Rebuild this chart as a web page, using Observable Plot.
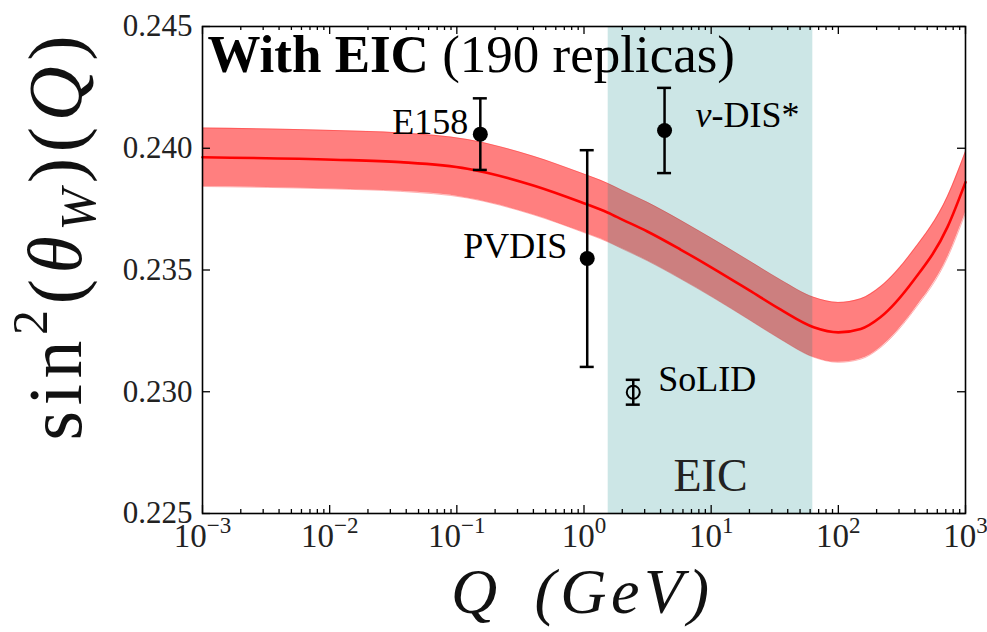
<!DOCTYPE html>
<html><head><meta charset="utf-8">
<script src="https://cdn.jsdelivr.net/npm/d3@7"></script>
<script src="https://cdn.jsdelivr.net/npm/@observablehq/plot@0.6"></script>
<style>html,body{margin:0;padding:0;background:#fff}</style>
</head><body><div id="chart"></div>
<script>
// ---- data ----
const curveQ   = [0.001, 0.0107, 0.036, 0.121, 0.40, 0.94, 1.53, 2.0, 3.15, 5.74, 10.4, 20, 35, 64, 100, 150, 214, 390, 721, 1000];
const curveV   = [0.23963, 0.23953, 0.23943, 0.23916, 0.23847, 0.23779, 0.23736, 0.23707, 0.23658, 0.23584, 0.23506, 0.23416, 0.23338, 0.23265, 0.23244, 0.23258, 0.23306, 0.23457, 0.23676, 0.23861];
const curveErr = [0.00120, 0.00120, 0.00120, 0.00120, 0.00120, 0.00120, 0.00120, 0.00120, 0.00120, 0.00120, 0.00120, 0.00121, 0.00122, 0.00123, 0.00123, 0.00124, 0.00125, 0.00125, 0.00126, 0.00126];

const pointNames  = ["E158", "PVDIS", "ν-DIS*", "SoLID"];
const pointQ      = [0.153, 1.06, 4.3, 2.44];
const pointV      = [0.24058, 0.23547, 0.24073, 0.22998];
const pointErr    = [0.00147, 0.00445, 0.00175, 0.00051];
const pointFilled = [true, true, true, false];

const eicRange = [1.55, 63];
const eicLabel = "EIC";
const titleBold = "With EIC";
const titleRest = " (190 replicas)";
const xLabel = "Q (GeV)";
const yLabel = "sin2(θW)(Q)";

const xTickValues = [1e-3, 1e-2, 1e-1, 1e0, 1e1, 1e2, 1e3];
const xTickLabels = ["10^-3", "10^-2", "10^-1", "10^0", "10^1", "10^2", "10^3"];
const yTickValues = [0.225, 0.230, 0.235, 0.240, 0.245];
const yTickLabels = ["0.225", "0.230", "0.235", "0.240", "0.245"];

// ---- tables built from the arrays ----
const curve = curveQ.map((q, i) => ({q, v: curveV[i], lo: curveV[i] - curveErr[i], hi: curveV[i] + curveErr[i]}));
const points = pointNames.map((name, i) => ({name, q: pointQ[i], v: pointV[i],
  lo: pointV[i] - pointErr[i], hi: pointV[i] + pointErr[i], filled: pointFilled[i]}));
const minorX = [];
for (let k = -3; k < 3; k++) for (let m = 2; m <= 9; m++) minorX.push(m * Math.pow(10, k));

const W = 987, H = 632, mL = 202, mR = 22, mT = 26, mB = 119;
const iw = W - mL - mR, ih = H - mT - mB;
const MAJ = 8, MIN = 4, TW = 1.3;
const serif = "'Liberation Serif', 'Times New Roman', serif";

const byName = n => points.filter(d => d.name === n);

const chart = Plot.plot({
  width: W, height: H,
  marginLeft: mL, marginRight: mR, marginTop: mT, marginBottom: mB,
  style: {fontFamily: serif, background: "white", color: "black"},
  x: {type: "log", domain: [1e-3, 1e3]},
  y: {domain: [0.225, 0.245]},
  marks: [
    // red uncertainty band
    Plot.areaY(curve, {x: "q", y1: "lo", y2: "hi", fill: "red", fillOpacity: 0.5, curve: "monotone-x"}),
    Plot.line(curve, {x: "q", y: "lo", stroke: "red", strokeOpacity: 0.3, strokeWidth: 1, curve: "monotone-x"}),
    Plot.line(curve, {x: "q", y: "hi", stroke: "red", strokeOpacity: 0.3, strokeWidth: 1, curve: "monotone-x"}),
    // EIC region
    Plot.rect([{x1: eicRange[0], x2: eicRange[1]}], {x1: "x1", x2: "x2", fill: "#008080", fillOpacity: 0.2}),
    // central curve
    Plot.line(curve, {x: "q", y: "v", stroke: "red", strokeWidth: 2.6, curve: "monotone-x"}),
    // error bars
    Plot.ruleX(points, {x: "q", y1: "lo", y2: "hi", stroke: "black", strokeWidth: 2.5}),
    Plot.ruleY(points, {y: "lo", x1: "q", x2: "q", insetLeft: -7, insetRight: -7, stroke: "black", strokeWidth: 2.5}),
    Plot.ruleY(points, {y: "hi", x1: "q", x2: "q", insetLeft: -7, insetRight: -7, stroke: "black", strokeWidth: 2.5}),
    Plot.dot(points.filter(d => d.filled), {x: "q", y: "v", r: 7.5, fill: "black", stroke: "none"}),
    Plot.dot(points.filter(d => !d.filled), {x: "q", y: "v", r: 6.5, fill: "none", stroke: "black", strokeWidth: 2}),
    // point labels
    Plot.text(byName("E158"), {x: "q", y: "v", text: "name", textAnchor: "end", lineAnchor: "bottom", dx: -12, dy: 0, fontSize: 36}),
    Plot.text(byName("PVDIS"), {x: "q", y: "v", text: "name", textAnchor: "end", lineAnchor: "bottom", dx: -20, dy: -1, fontSize: 36}),
    Plot.text(byName("ν-DIS*"), {x: "q", y: "v", text: "name", textAnchor: "start", lineAnchor: "bottom", dx: 31, dy: -3, fontSize: 36}),
    Plot.text(byName("SoLID"), {x: "q", y: "v", text: "name", textAnchor: "start", lineAnchor: "bottom", dx: 25, dy: -1, fontSize: 36}),
    Plot.text([eicLabel], {x: () => Math.sqrt(eicRange[0] * eicRange[1]), frameAnchor: "bottom", lineAnchor: "bottom", dy: -23, fontSize: 46, fill: "#222"}),
    // title inside the frame
    Plot.text([titleBold + titleRest], {frameAnchor: "top-left", textAnchor: "start", lineAnchor: "bottom", dx: 5, dy: 45, fontSize: 53}),
    // inward ticks, all four sides
    Plot.ruleX(xTickValues, {x: d => d, insetTop: ih - MAJ, stroke: "black", strokeWidth: TW}),
    Plot.ruleX(xTickValues, {x: d => d, insetBottom: ih - MAJ, stroke: "black", strokeWidth: TW}),
    Plot.ruleX(minorX, {x: d => d, insetTop: ih - MIN, stroke: "black", strokeWidth: TW}),
    Plot.ruleX(minorX, {x: d => d, insetBottom: ih - MIN, stroke: "black", strokeWidth: TW}),
    Plot.ruleY(yTickValues, {y: d => d, insetRight: iw - MAJ, stroke: "black", strokeWidth: TW}),
    Plot.ruleY(yTickValues, {y: d => d, insetLeft: iw - MAJ, stroke: "black", strokeWidth: TW}),
    Plot.frame({stroke: "black", strokeWidth: 1.6}),
    // axes (labels only)
    Plot.axisX({ticks: xTickValues, tickFormat: d => xTickLabels[xTickValues.indexOf(d)], tickSize: 0, tickPadding: 10, fontSize: 33, label: null, fill: "#222"}),
    Plot.axisY({ticks: yTickValues, tickFormat: d => yTickLabels[yTickValues.indexOf(d)], tickSize: 0, tickPadding: 10, fontSize: 31, label: null, fill: "#222"}),
    // axis titles
    Plot.text([xLabel], {frameAnchor: "bottom", textAnchor: "middle", lineAnchor: "bottom", dx: -4, dy: 99, fontSize: 64, fontStyle: "italic", fill: "#111"}),
    Plot.text([yLabel], {frameAnchor: "left", textAnchor: "middle", rotate: -90, lineAnchor: "bottom", dx: -122, dy: -32, fontSize: 76, fill: "#111"})
  ]
});
document.getElementById("chart").appendChild(chart);

// ---- typographic touches (superscripts, italics, bold) ----
const svg = d3.select(chart);
const textsWith = s => svg.selectAll("text").filter(function () { return this.textContent === s; });

svg.selectAll('g[aria-label="x-axis tick label"] text').each(function () {
  const t = d3.select(this);
  const [b, e] = t.text().split("^");
  t.text(b);
  t.append("tspan").attr("dy", -14).attr("font-size", 23).text(e.replace("-", "\u2212"));
});
textsWith(titleBold + titleRest).each(function () {
  const t = d3.select(this);
  t.text(null);
  t.append("tspan").attr("font-weight", "bold").text(titleBold);
  t.append("tspan").text(titleRest);
});
textsWith("ν-DIS*").each(function () {
  const t = d3.select(this);
  const s = t.text();
  t.text(null);
  t.append("tspan").attr("font-style", "italic").text(s.slice(0, 1));
  t.append("tspan").text(s.slice(1));
});
textsWith(xLabel).each(function () {
  const t = d3.select(this);
  const s = t.text();
  t.text(null);
  t.append("tspan").text(s.slice(0, 1));
  t.append("tspan").attr("dx", 12).text(s.slice(1));
  t.attr("textLength", 258).attr("lengthAdjust", "spacing");
});
textsWith(yLabel).each(function () {
  const t = d3.select(this);
  t.text(null);
  t.append("tspan").text("sin");
  t.append("tspan").attr("font-size", 50).attr("dy", -34).text("2");
  t.append("tspan").attr("dy", 34).text("(");
  t.append("tspan").attr("font-style", "italic").text("θ");
  t.append("tspan").attr("font-style", "italic").attr("font-size", 50).attr("dy", 14).text("W");
  t.append("tspan").attr("dy", -14).text(")(");
  t.append("tspan").attr("font-style", "italic").text("Q");
  t.append("tspan").text(")");
  t.attr("textLength", 405).attr("lengthAdjust", "spacing");
});
</script>
</body></html>
